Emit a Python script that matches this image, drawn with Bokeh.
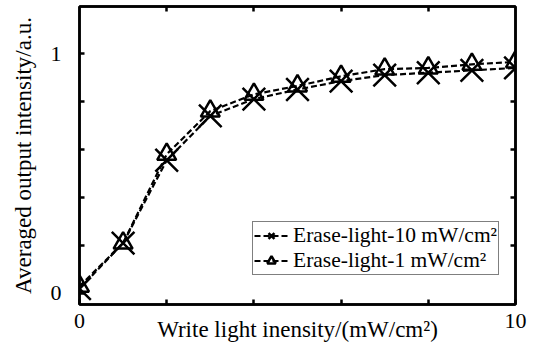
from bokeh.plotting import figure
from bokeh.models import FixedTicker, LinearAxis, Range1d, Legend, LegendItem
from bokeh.embed import file_html
from bokeh.resources import INLINE

x_vals = [0, 1, 2, 3, 4, 5, 6, 7, 8, 9, 10]
erase10 = [0.02, 0.21, 0.555, 0.74, 0.81, 0.85, 0.885, 0.91, 0.92, 0.93, 0.94]
erase1 = [0.03, 0.21, 0.58, 0.76, 0.83, 0.865, 0.905, 0.935, 0.94, 0.955, 0.965]
x_major = [0, 10]
x_minor = [2, 4, 6, 8]
y_major = [0, 1]
y_minor = [0.2, 0.4, 0.6, 0.8]
label10 = "Erase-light-10 mW/cm²"
label1 = "Erase-light-1 mW/cm²"

FONT = "Liberation Serif"

p = figure(width=538, height=349, output_backend="svg", toolbar_location=None,
           x_range=Range1d(0, 10), y_range=Range1d(-0.046, 1.196),
           min_border_left=79, min_border_right=23, min_border_top=6, min_border_bottom=45)
p.grid.visible = False
p.background_fill_color = "white"
p.border_fill_color = "white"
p.outline_line_color = "black"
p.outline_line_width = 2.5

def style_axis(ax):
    ax.axis_line_color = "black"
    ax.axis_line_width = 2.5
    ax.major_tick_in = 5
    ax.major_tick_out = 0
    ax.minor_tick_in = 5
    ax.minor_tick_out = 0
    ax.major_tick_line_width = 2.5
    ax.minor_tick_line_width = 2.5
    ax.major_label_text_font = FONT
    ax.major_label_text_font_size = "22px"
    ax.major_label_text_color = "black"
    ax.axis_label_text_font = FONT
    ax.axis_label_text_font_size = "23px"
    ax.axis_label_text_font_style = "normal"
    ax.axis_label_text_color = "black"

p.xaxis.ticker = FixedTicker(ticks=x_major, minor_ticks=x_minor)
p.yaxis.ticker = FixedTicker(ticks=y_major, minor_ticks=y_minor)
p.xaxis.axis_label = "Write light inensity/(mW/cm²)"
p.yaxis.axis_label = "Averaged output intensity/a.u."
style_axis(p.xaxis[0])
style_axis(p.yaxis[0])
p.xaxis.major_label_standoff = 9
p.yaxis.major_label_standoff = 18
p.xaxis.axis_label_standoff = -14
p.yaxis.axis_label_standoff = 12

top = LinearAxis(ticker=FixedTicker(ticks=[], minor_ticks=x_minor))
right = LinearAxis(ticker=FixedTicker(ticks=[], minor_ticks=y_minor))
style_axis(top)
style_axis(right)
top.major_label_standoff = 0
right.major_label_standoff = 0
p.add_layout(top, "above")
p.add_layout(right, "right")

l10 = p.line(x_vals, erase10, line_color="black", line_width=2.2, line_dash="6 3")
m10 = p.scatter(x_vals, erase10, marker="x", size=32, line_color="black", line_width=2.5)
l1 = p.line(x_vals, erase1, line_color="black", line_width=2.2, line_dash="6 3")
m1 = p.scatter(x_vals, erase1, marker="triangle", size=19, line_color="black",
               line_width=2.5, fill_color=None)

legend = Legend(items=[LegendItem(label=label10, renderers=[l10, m10]),
                       LegendItem(label=label1, renderers=[l1, m1])],
                location=(173, 29))
legend.label_text_font = FONT
legend.label_text_font_size = "21.5px"
legend.label_text_color = "black"
legend.glyph_width = 34
legend.glyph_height = 21
legend.label_height = 21
legend.label_standoff = 5
legend.padding = 1
legend.spacing = 0
legend.margin = 0
legend.border_line_color = "black"
legend.border_line_width = 1
legend.background_fill_alpha = 1
p.add_layout(legend, "center")

open("out.html", "w").write(file_html(p, INLINE))
